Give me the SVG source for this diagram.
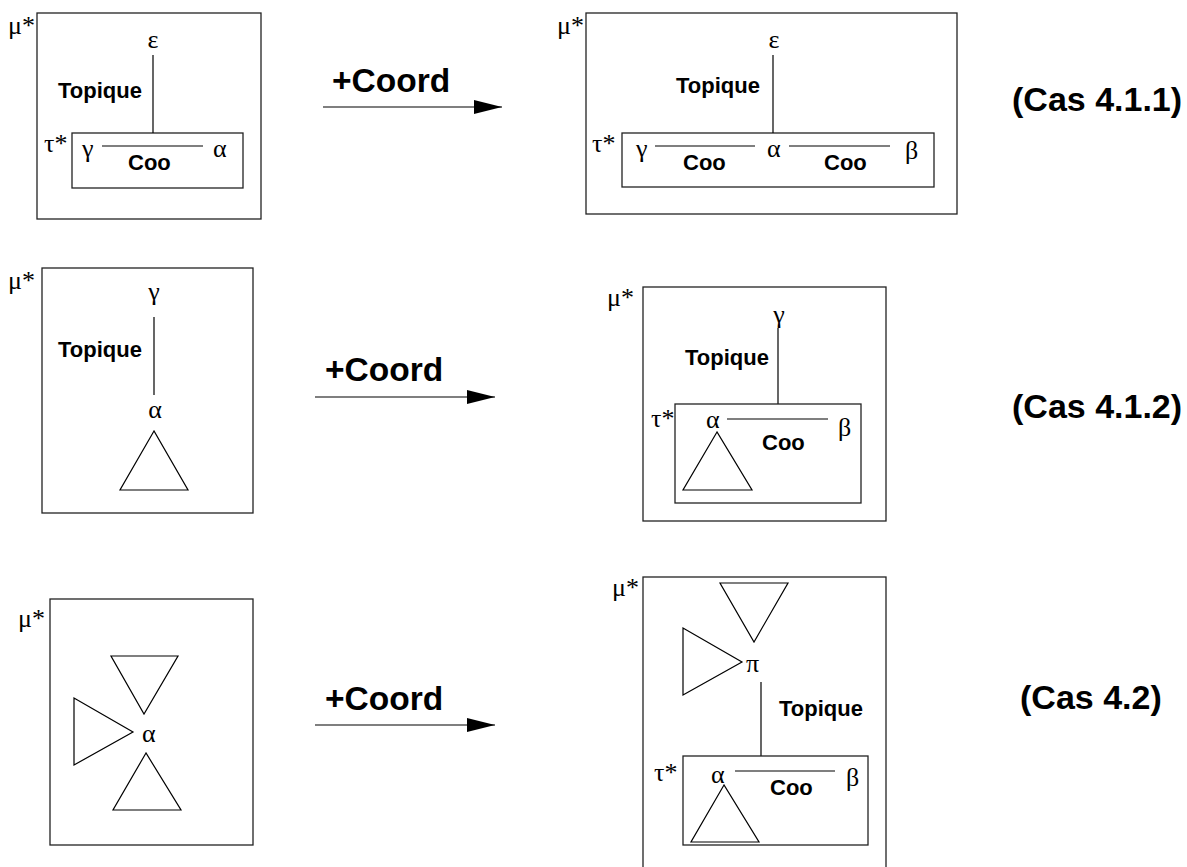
<svg xmlns="http://www.w3.org/2000/svg" width="1187" height="867" viewBox="0 0 1187 867">
<defs>
<marker id="ah" markerUnits="userSpaceOnUse" markerWidth="30" markerHeight="16" refX="28" refY="7" orient="auto">
<path d="M0,0 L28,7 L0,14 Z" fill="#000"/>
</marker>
<style>
.box{fill:none;stroke:#222;stroke-width:1.3}
.ln{fill:none;stroke:#000;stroke-width:1.2}
.tri{fill:none;stroke:#000;stroke-width:1.2;stroke-linejoin:miter}
.g{font-family:"Liberation Serif","Times New Roman",serif;font-size:26px;fill:#000}
.gm{font-family:"Liberation Serif","Times New Roman",serif;font-size:26px;fill:#000;text-anchor:middle}
.lb{font-family:"Liberation Sans",Arial,sans-serif;font-weight:bold;font-size:22px;fill:#000}
.big{font-family:"Liberation Sans",Arial,sans-serif;font-weight:bold;font-size:33.5px;fill:#000}
.cas{font-family:"Liberation Sans",Arial,sans-serif;font-weight:bold;font-size:34px;fill:#000}
</style>
</defs>
<rect width="1187" height="867" fill="#fff"/>

<g id="panel-411-before">
<rect class="box" x="37" y="13" width="224" height="206"/>
<text class="g" x="8" y="34">μ*</text>
<text class="gm" x="153" y="48">ε</text>
<text class="lb" x="58" y="98">Topique</text>
<rect class="box" x="72" y="133" width="171" height="55"/>
<text class="g" x="44" y="152">τ*</text>
<text class="g" x="82" y="157">γ</text>
<line class="ln" x1="102" y1="146" x2="203" y2="146"/>
<text class="lb" x="128" y="170">Coo</text>
<text class="g" x="213" y="157">α</text>
<line class="ln" x1="153" y1="55" x2="153" y2="133"/>
</g>

<g id="panel-411-after">
<rect class="box" x="586" y="13" width="371" height="201"/>
<text class="g" x="557" y="34">μ*</text>
<text class="gm" x="774" y="48">ε</text>
<text class="lb" x="676" y="93">Topique</text>
<rect class="box" x="622" y="133" width="312" height="54"/>
<text class="g" x="592" y="152">τ*</text>
<text class="g" x="636" y="157">γ</text>
<line class="ln" x1="655" y1="146" x2="755" y2="146"/>
<text class="g" x="767" y="157">α</text>
<line class="ln" x1="789" y1="146" x2="890" y2="146"/>
<text class="g" x="905" y="159">β</text>
<text class="lb" x="683" y="170">Coo</text>
<text class="lb" x="824" y="170">Coo</text>
<line class="ln" x1="773" y1="55" x2="773" y2="133"/>
</g>

<g id="panel-412-before">
<rect class="box" x="42" y="268" width="211" height="245"/>
<text class="g" x="8" y="289">μ*</text>
<text class="gm" x="154" y="300">γ</text>
<line class="ln" x1="154" y1="317" x2="154" y2="395"/>
<text class="lb" x="58" y="357">Topique</text>
<text class="gm" x="155" y="418">α</text>
<polygon class="tri" points="154,431 120,490 188,490"/>
</g>

<g id="panel-412-after">
<rect class="box" x="643" y="287" width="243" height="234"/>
<text class="g" x="607" y="306">μ*</text>
<text class="gm" x="779" y="323">γ</text>
<line class="ln" x1="778" y1="328" x2="778" y2="404"/>
<text class="lb" x="685" y="365">Topique</text>
<rect class="box" x="675" y="404" width="186" height="99"/>
<text class="g" x="651" y="427">τ*</text>
<text class="g" x="706" y="428">α</text>
<line class="ln" x1="727" y1="419" x2="828" y2="419"/>
<text class="g" x="838" y="436">β</text>
<text class="lb" x="762" y="450">Coo</text>
<polygon class="tri" points="717,432 683,490 752,490"/>
</g>

<g id="panel-42-before">
<rect class="box" x="50" y="599" width="203" height="246"/>
<text class="g" x="18" y="627">μ*</text>
<polygon class="tri" points="111,656 178,656 144,714"/>
<polygon class="tri" points="74,698 74,765 133,732"/>
<text class="g" x="142" y="742">α</text>
<polygon class="tri" points="146,753 113,810 181,810"/>
</g>

<g id="panel-42-after">
<rect class="box" x="643" y="577" width="243" height="300"/>
<text class="g" x="612" y="596">μ*</text>
<polygon class="tri" points="720,583 788,583 754,642"/>
<polygon class="tri" points="683,628 683,695 742,662"/>
<text class="g" x="746" y="672">π</text>
<line class="ln" x1="761" y1="682" x2="761" y2="756"/>
<text class="lb" x="779" y="716">Topique</text>
<rect class="box" x="683" y="756" width="185" height="89"/>
<text class="g" x="654" y="781">τ*</text>
<text class="g" x="711" y="783">α</text>
<line class="ln" x1="735" y1="771" x2="835" y2="771"/>
<text class="g" x="846" y="786">β</text>
<text class="lb" x="770" y="795">Coo</text>
<polygon class="tri" points="724,785 691,842 759,842"/>
</g>

<g id="connectors">
<line class="ln" x1="323" y1="107" x2="502" y2="107" marker-end="url(#ah)"/>
<line class="ln" x1="315" y1="397" x2="495" y2="397" marker-end="url(#ah)"/>
<line class="ln" x1="315" y1="725" x2="495" y2="725" marker-end="url(#ah)"/>
</g>

<g id="labels">
<text class="big" x="332" y="92">+Coord</text>
<text class="big" x="325" y="381">+Coord</text>
<text class="big" x="325" y="710">+Coord</text>
<text class="cas" x="1012" y="111">(Cas 4.1.1)</text>
<text class="cas" x="1012" y="418">(Cas 4.1.2)</text>
<text class="cas" x="1020" y="709">(Cas 4.2)</text>
</g>
</svg>
